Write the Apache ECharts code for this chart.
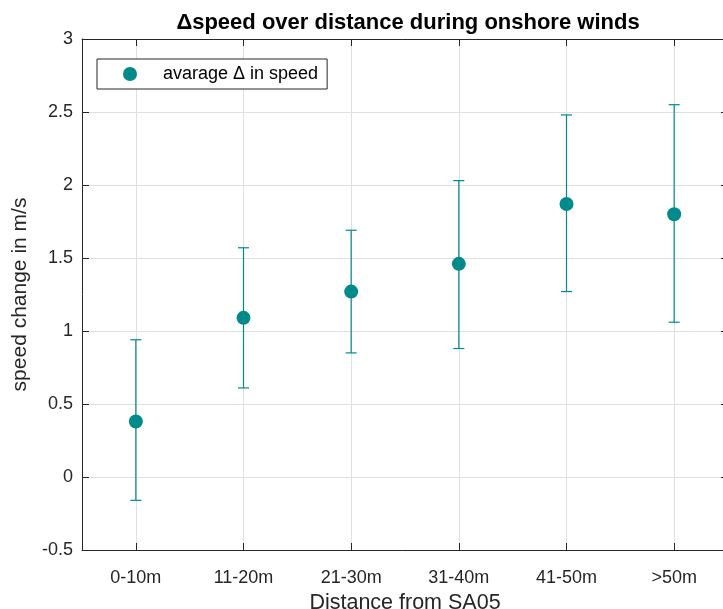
<!DOCTYPE html>
<html><head><meta charset="utf-8">
<script src="https://cdn.jsdelivr.net/npm/echarts@6/dist/echarts.min.js"></script>
<style>html,body{margin:0;padding:0;background:#fff}#c{width:723px;height:609px}</style>
</head><body><div id="c"></div>
<script>
const categories = ['0-10m', '11-20m', '21-30m', '31-40m', '41-50m', '>50m'];
const meanValues = [0.38, 1.09, 1.27, 1.46, 1.87, 1.80];
const upperValues = [0.94, 1.57, 1.69, 2.03, 2.48, 2.55];
const lowerValues = [-0.16, 0.61, 0.85, 0.88, 1.27, 1.06];
const yTicks = { min: -0.5, max: 3, interval: 0.5 };

const FONT = 'Liberation Sans, Arial, Helvetica, sans-serif';
const TEAL = '#008a8a';
const AXIS = '#262626';
const GRID = '#e0e0e0';

const chart = echarts.init(document.getElementById('c'), null, { renderer: 'canvas' });

const errData = categories.map((c, i) => [i, lowerValues[i], upperValues[i]]);
const ptData = categories.map((c, i) => [i, meanValues[i]]);

const baseX = {
  type: 'category',
  data: categories,
  boundaryGap: true,
  axisLine: { show: true, onZero: false, lineStyle: { color: AXIS, width: 1 } },
  axisTick: { show: true, inside: true, length: 7, alignWithLabel: true, lineStyle: { color: AXIS } }
};
const baseY = {
  type: 'value',
  min: yTicks.min, max: yTicks.max, interval: yTicks.interval,
  axisLine: { show: true, onZero: false, lineStyle: { color: AXIS, width: 1 } },
  axisTick: { show: true, inside: true, length: 7, lineStyle: { color: AXIS } }
};

chart.setOption({
  animation: false,
  backgroundColor: '#fff',
  textStyle: { fontFamily: FONT },
  title: {
    text: '\u0394speed over distance during onshore winds',
    left: 403, top: 7, textAlign: 'center',
    textStyle: { fontFamily: FONT, fontWeight: 'bold', fontSize: 22, color: '#000' }
  },
  legend: {
    data: ['avarage \u0394 in speed'],
    left: 97, top: 59,
    itemWidth: 14, itemHeight: 14,
    icon: 'circle',
    padding: [6, 9, 6, 26],
    borderColor: AXIS, borderWidth: 1, borderRadius: 0,
    backgroundColor: '#fff',
    textStyle: { fontFamily: FONT, fontSize: 18, color: '#000', padding: [0, 0, 0, 21] }
  },
  grid: { left: 82, right: -5, top: 39, bottom: 59, containLabel: false, outerBoundsMode: 'none' },
  xAxis: [
    Object.assign({}, baseX, {
      position: 'bottom',
      name: 'Distance from SA05', nameLocation: 'middle', nameGap: 39,
      nameTextStyle: { fontFamily: FONT, fontSize: 21.5, color: AXIS },
      axisLabel: { show: true, margin: 19, fontFamily: FONT, fontSize: 18, color: AXIS },
      splitLine: { show: true, alignWithLabel: true, lineStyle: { color: GRID, width: 1 } }
    }),
    Object.assign({}, baseX, {
      position: 'top',
      axisLabel: { show: false },
      splitLine: { show: false }
    })
  ],
  yAxis: [
    Object.assign({}, baseY, {
      position: 'left',
      name: 'speed change in m/s', nameLocation: 'middle', nameGap: 43,
      nameTextStyle: { fontFamily: FONT, fontSize: 21, color: AXIS },
      axisLabel: { show: true, margin: 9, fontFamily: FONT, fontSize: 18, color: AXIS },
      splitLine: { show: true, lineStyle: { color: GRID, width: 1 } }
    }),
    Object.assign({}, baseY, {
      position: 'right',
      axisLabel: { show: false },
      splitLine: { show: false }
    })
  ],
  series: [
    {
      type: 'custom',
      name: 'errorbars',
      xAxisIndex: 0, yAxisIndex: 0,
      data: errData,
      encode: { x: 0, y: [1, 2] },
      z: 2,
      renderItem: function (params, api) {
        const x = api.value(0);
        const pLo = api.coord([x, api.value(1)]);
        const pHi = api.coord([x, api.value(2)]);
        const hw = 5.5;
        const st = { stroke: TEAL, lineWidth: 1.2 };
        return {
          type: 'group',
          children: [
            { type: 'line', shape: { x1: pHi[0], y1: pHi[1], x2: pLo[0], y2: pLo[1] }, style: st },
            { type: 'line', shape: { x1: pHi[0] - hw, y1: pHi[1], x2: pHi[0] + hw, y2: pHi[1] }, style: st },
            { type: 'line', shape: { x1: pLo[0] - hw, y1: pLo[1], x2: pLo[0] + hw, y2: pLo[1] }, style: st }
          ]
        };
      }
    },
    {
      type: 'scatter',
      name: 'avarage \u0394 in speed',
      xAxisIndex: 0, yAxisIndex: 0,
      data: ptData,
      symbol: 'circle',
      symbolSize: 14,
      itemStyle: { color: TEAL, opacity: 1 },
      z: 3
    }
  ]
});
</script>
</body></html>
